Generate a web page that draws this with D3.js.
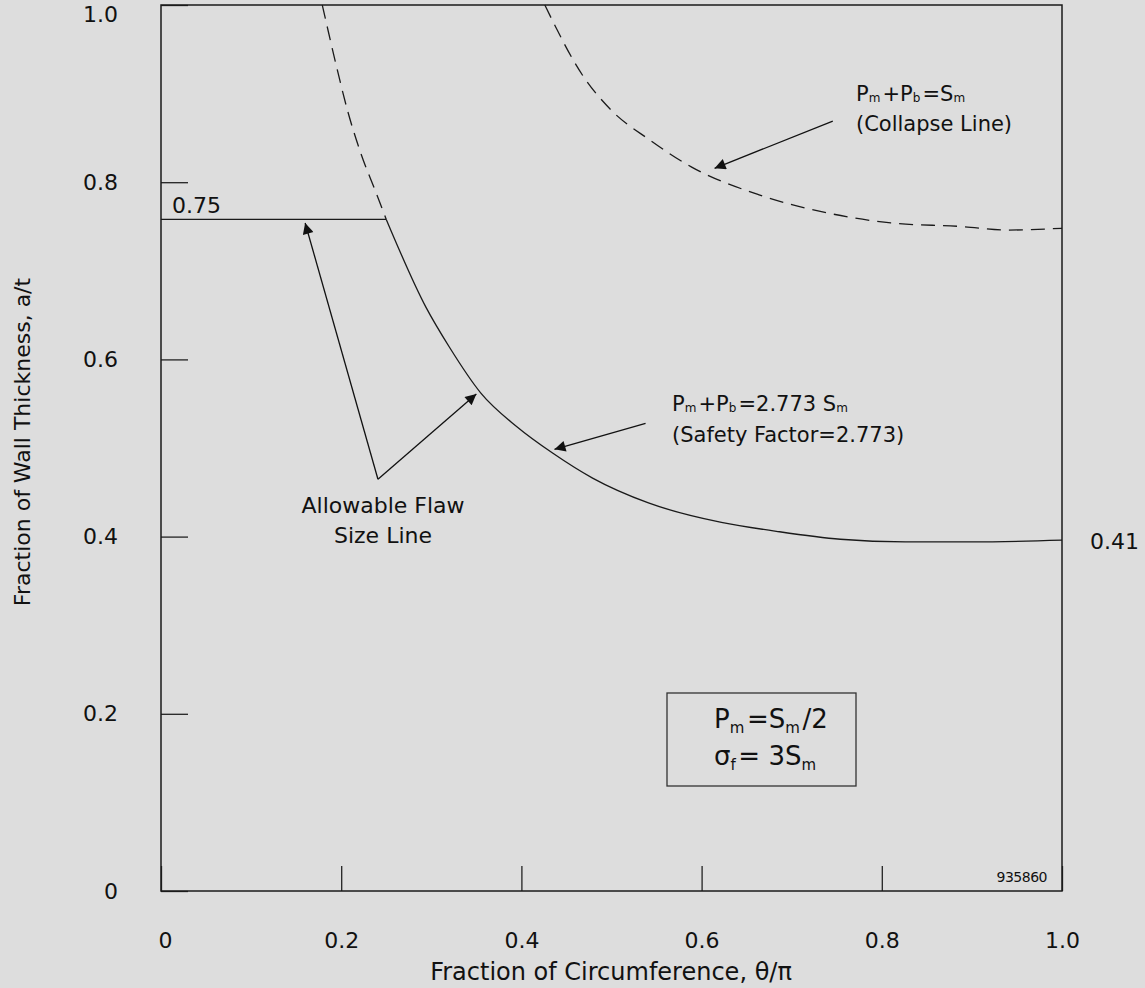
<!DOCTYPE html>
<html>
<head>
<meta charset="utf-8">
<script src="https://cdn.jsdelivr.net/npm/d3@7"></script>
<style>
  body { margin: 0; background: #dddddd; }
  svg { display: block; font-family: "DejaVu Sans", sans-serif; }
</style>
</head>
<body>
<div id="chart-area"></div>
<script>
// tick values
var xTicks = [0, 0.2, 0.4, 0.6, 0.8, 1.0];
var yTicks = [0, 0.2, 0.4, 0.6, 0.8, 1.0];

// allowable flaw plateau (labelled 0.75)
var plateauX = [0, 0.25];
var plateauY = [0.758, 0.758];

// Pm+Pb = 2.773 Sm curve, solid part below the plateau
var sfX = [0.250, 0.294, 0.320, 0.355, 0.395, 0.435, 0.479, 0.541, 0.622, 0.683, 0.754, 0.826, 0.900, 1.0];
var sfY = [0.758, 0.659, 0.614, 0.562, 0.524, 0.494, 0.466, 0.438, 0.416, 0.406, 0.397, 0.394, 0.394, 0.396];

// same curve above the plateau (dashed)
var sfUpX = [0.179, 0.194, 0.207, 0.222, 0.238, 0.250];
var sfUpY = [1.0, 0.934, 0.881, 0.832, 0.790, 0.758];

// Pm+Pb = Sm collapse line (dashed)
var colX = [0.426, 0.469, 0.500, 0.542, 0.589, 0.663, 0.741, 0.810, 0.888, 0.941, 1.0];
var colY = [1.0, 0.919, 0.881, 0.848, 0.817, 0.786, 0.765, 0.754, 0.750, 0.746, 0.748];

var W = 1145, H = 988;
var frame = { left: 161, right: 1062, top: 5, bottom: 891 };

var svg = d3.select("#chart-area")
	.append("svg")
	.attr("width", W)
	.attr("height", H);

svg.append("rect").attr("width", W).attr("height", H).attr("fill", "#dddddd");

var x = d3.scaleLinear().domain([0, 1]).range([frame.left, frame.right]);
var y = d3.scaleLinear().domain([0, 1]).range([frame.bottom, frame.top]);

var fmt = function (d) { return d === 0 ? "0" : d.toFixed(1); };

// bottom axis, ticks pointing inward
var gx = svg.append("g")
	.attr("transform", "translate(0," + frame.bottom + ")")
	.call(d3.axisBottom(x).tickValues(xTicks).tickSizeInner(-25).tickSizeOuter(0).tickPadding(41).tickFormat(fmt));
gx.select(".domain").remove();
gx.selectAll(".tick").filter(function (d) { return d === 0; }).select("text").attr("dx", 4);

// left axis
var gy = svg.append("g")
	.attr("transform", "translate(" + frame.left + ",0)")
	.call(d3.axisLeft(y).tickValues(yTicks).tickSizeInner(-27).tickSizeOuter(0).tickPadding(43).tickFormat(fmt));
gy.select(".domain").remove();
gy.selectAll(".tick").filter(function (d) { return d === 1; }).select("text").attr("dy", "0.75em");

svg.selectAll(".tick line").attr("stroke", "#222").attr("stroke-width", 1.3);
svg.selectAll(".tick text").attr("font-size", 22).attr("fill", "#111")
	.attr("font-family", "DejaVu Sans");

// frame
svg.append("rect")
	.attr("x", frame.left).attr("y", frame.top)
	.attr("width", frame.right - frame.left).attr("height", frame.bottom - frame.top)
	.attr("fill", "none").attr("stroke", "#1a1a1a").attr("stroke-width", 1.5);

var line = d3.line()
	.x(function (d) { return x(d[0]); })
	.y(function (d) { return y(d[1]); })
	.curve(d3.curveMonotoneX);
var zip = function (a, b) { return a.map(function (v, i) { return [v, b[i]]; }); };

svg.append("path").attr("d", line(zip(plateauX, plateauY)))
	.attr("fill", "none").attr("stroke", "#1a1a1a").attr("stroke-width", 1.3);
svg.append("path").attr("d", line(zip(sfX, sfY)))
	.attr("fill", "none").attr("stroke", "#1a1a1a").attr("stroke-width", 1.3);
svg.append("path").attr("d", line(zip(sfUpX, sfUpY)))
	.attr("fill", "none").attr("stroke", "#1a1a1a").attr("stroke-width", 1.3)
	.attr("stroke-dasharray", "14,8");
svg.append("path").attr("d", line(zip(colX, colY)))
	.attr("fill", "none").attr("stroke", "#1a1a1a").attr("stroke-width", 1.3)
	.attr("stroke-dasharray", "14,8");

// arrows
svg.append("defs").append("marker")
	.attr("id", "head")
	.attr("viewBox", "0 0 10 10")
	.attr("refX", 10).attr("refY", 5)
	.attr("markerWidth", 16).attr("markerHeight", 11)
	.attr("markerUnits", "userSpaceOnUse")
	.attr("orient", "auto")
	.append("path").attr("d", "M0,0L10,5L0,10Z").attr("fill", "#111");

var arrows = [
	[[0.7456, 0.869], [0.6144, 0.8157]],
	[[0.5378, 0.5279], [0.4367, 0.4985]],
	[[0.2408, 0.4647], [0.160, 0.754]],
	[[0.2408, 0.4647], [0.350, 0.561]]
];
arrows.forEach(function (a) {
	svg.append("line")
		.attr("x1", x(a[0][0])).attr("y1", y(a[0][1]))
		.attr("x2", x(a[1][0])).attr("y2", y(a[1][1]))
		.attr("stroke", "#111").attr("stroke-width", 1.3)
		.attr("marker-end", "url(#head)");
});

// text with subscripts
function rich(px, py, parts, size, subSize, shift, anchor) {
	var t = svg.append("text")
		.attr("x", px).attr("y", py)
		.attr("font-size", size).attr("fill", "#111")
		.attr("text-anchor", anchor || "start");
	parts.forEach(function (p) {
		if (p.sub) {
			t.append("tspan").attr("font-size", subSize).attr("dy", shift).text(p.t);
			t.append("tspan").attr("dy", -shift).text("\u200a");
		} else {
			t.append("tspan").text(p.t);
		}
	});
	return t;
}

rich(856, 101, [{t: "P"}, {t: "m", sub: true}, {t: "+P"}, {t: "b", sub: true}, {t: "=S"}, {t: "m", sub: true}], 21, 12, 1);
rich(856, 131, [{t: "(Collapse Line)"}], 21);

rich(672, 411, [{t: "P"}, {t: "m", sub: true}, {t: "+P"}, {t: "b", sub: true}, {t: "=2.773 S"}, {t: "m", sub: true}], 21, 12, 1);
rich(672, 442, [{t: "(Safety Factor=2.773)"}], 21);

rich(383, 513, [{t: "Allowable Flaw"}], 22, 0, 0, "middle");
rich(383, 543, [{t: "Size Line"}], 22, 0, 0, "middle");

// parameter box
svg.append("rect")
	.attr("x", 667).attr("y", 693).attr("width", 189).attr("height", 93)
	.attr("fill", "none").attr("stroke", "#333").attr("stroke-width", 1.3);
rich(714, 728, [{t: "P"}, {t: "m", sub: true}, {t: "=S"}, {t: "m", sub: true}, {t: "/2"}], 26, 15, 5);
rich(714, 765, [{t: "\u03c3"}, {t: "f", sub: true}, {t: "= 3S"}, {t: "m", sub: true}], 26, 15, 5);

rich(172, 213, [{t: "0.75"}], 22);
rich(1090, 549, [{t: "0.41"}], 22);
rich(1047, 882, [{t: "935860"}], 14, 0, 0, "end").attr("letter-spacing", -0.5);

// axis titles
svg.append("text")
	.attr("x", 611).attr("y", 980)
	.attr("text-anchor", "middle")
	.attr("font-size", 24).attr("fill", "#111")
	.text("Fraction of Circumference, \u03b8/\u03c0");
svg.append("text")
	.attr("transform", "translate(30,442) rotate(-90)")
	.attr("text-anchor", "middle")
	.attr("font-size", 22).attr("fill", "#111")
	.text("Fraction of Wall Thickness, a/t");
</script>
</body>
</html>
